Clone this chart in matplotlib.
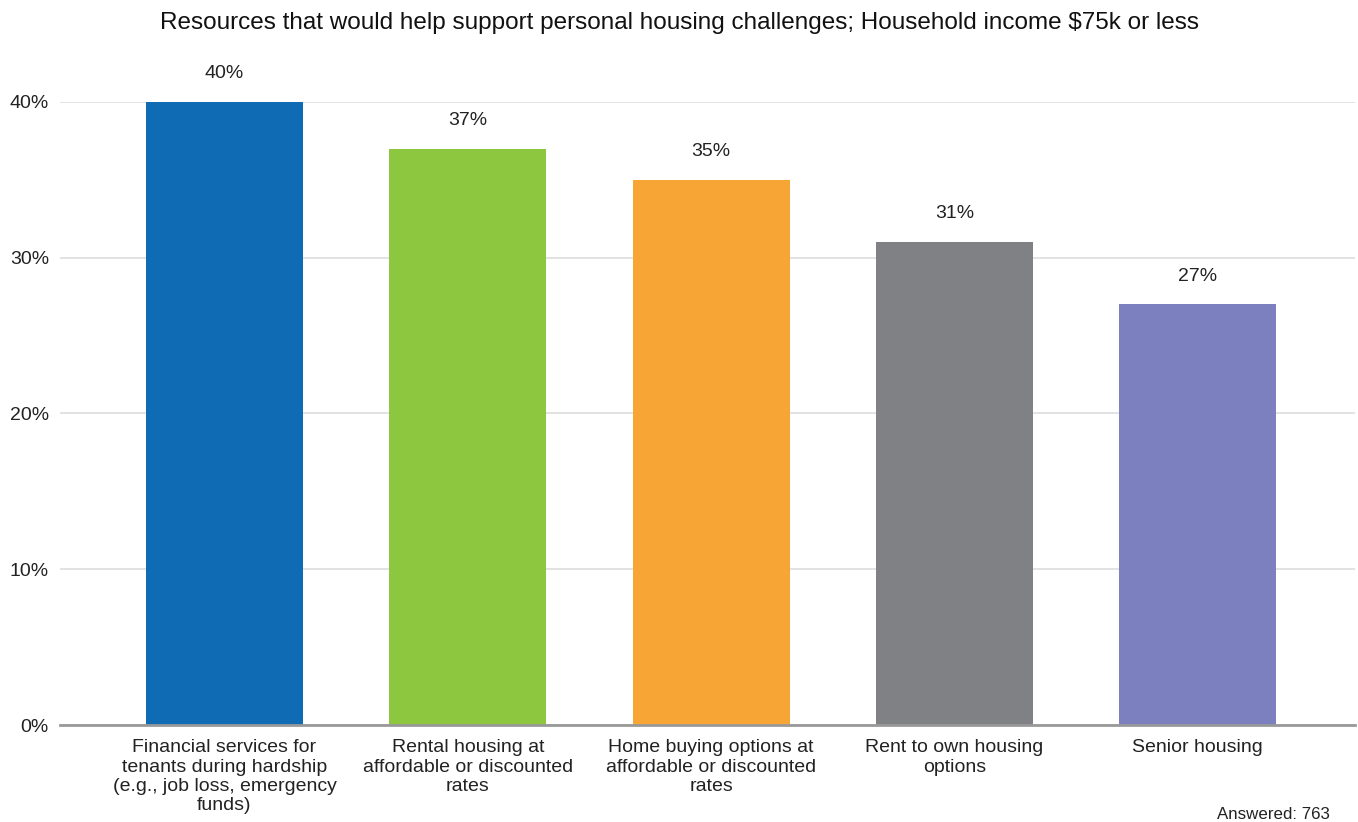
import matplotlib
matplotlib.use("Agg")
import matplotlib.pyplot as plt

categories = [
    "Financial services for\ntenants during hardship\n(e.g., job loss, emergency\nfunds)",
    "Rental housing at\naffordable or discounted\nrates",
    "Home buying options at\naffordable or discounted\nrates",
    "Rent to own housing\noptions",
    "Senior housing",
]
values = [40, 37, 35, 31, 27]
colors = ["#106BB5", "#8DC63F", "#F7A535", "#808184", "#7C80BE"]
yticks = [0, 10, 20, 30, 40]
title = "Resources that would help support personal housing challenges; Household income $75k or less"
note = "Answered: 763"

plt.rcParams['font.family'] = ['Liberation Sans', 'DejaVu Sans']

fig = plt.figure(figsize=(13.58, 8.22), dpi=100)
ax = fig.add_axes([60/1358, 1-725/822, (1355-60)/1358, (725-102)/822])

x = list(range(len(categories)))
ax.bar(x, values, width=0.645, color=colors, zorder=3)
for xi, v in zip(x, values):
    ax.annotate(f"{v}%", (xi, v), xytext=(0, 20.5), textcoords="offset points",
                ha="center", va="center", fontsize=14, color="#222222", clip_on=False)

ax.set_xlim(-0.676, 4.646)
ax.set_ylim(0, 40)
ax.set_yticks(yticks)
ax.set_yticklabels([f"{t}%" for t in yticks], fontsize=14, color="#222222")
ax.set_xticks(x)
ax.set_xticklabels(categories, fontsize=14, color="#222222", linespacing=1.17)
ax.tick_params(axis="both", length=0)
ax.tick_params(axis="y", pad=8)
ax.tick_params(axis="x", pad=10.3)
ax.grid(axis="y", color="#DDDDDD", linewidth=1.2, zorder=0)
for s in ["top", "right", "left"]:
    ax.spines[s].set_visible(False)
ax.spines["bottom"].set_color("#999999")
ax.spines["bottom"].set_linewidth(2)
ax.spines["bottom"].set_zorder(4)

fig.text(0.5 + 1/1358, 1-23/822, title, ha="center", va="center", fontsize=17.5, color="#111111")
fig.text(1330/1358, 1-814/822, note, ha="right", va="center", fontsize=12.2, color="#222222")

fig.savefig("out.png", dpi=100)
